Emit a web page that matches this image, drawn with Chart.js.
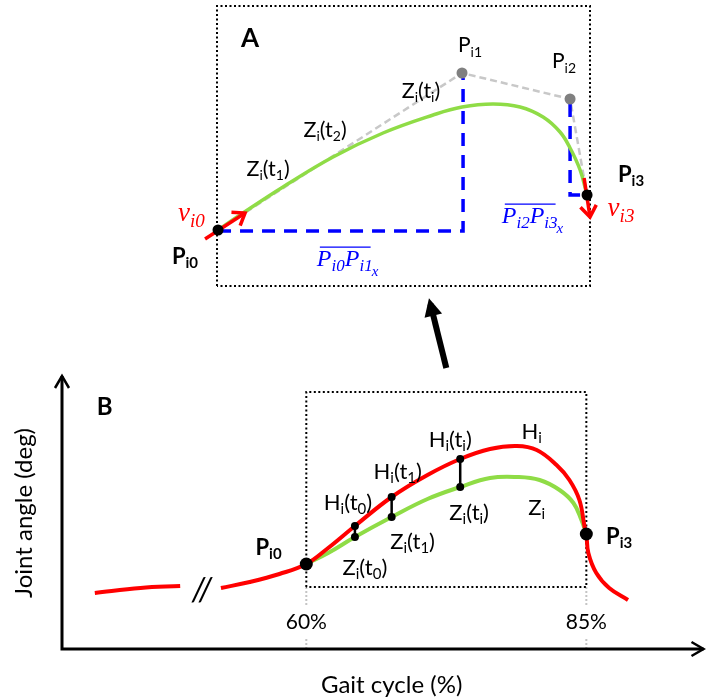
<!DOCTYPE html>
<html>
<head>
<meta charset="utf-8">
<title>Bezier segment of the swing-phase joint angle</title>
<script src="https://cdn.jsdelivr.net/npm/chart.js@4.4.1/dist/chart.umd.min.js"></script>
<style>
  html, body { margin: 0; background: #fff; }
  #wrap { position: relative; width: 710px; height: 700px; }
  #wrap canvas { position: absolute; left: 0; top: 0; }
</style>
</head>
<body>
<div id="wrap">
  <canvas id="panelB" width="710" height="700"></canvas>
  <canvas id="panelA" width="710" height="700"></canvas>
</div>
<script>
// ---- panel A: one cubic segment Z_i (x = gait cycle %, y = angle, schematic units)
const ctrlX = [60, 76.53, 83.85, 85];          // P_i0 .. P_i3
const ctrlY = [5.6, 21.3, 18.7, 9.1];
const segX = [60, 61.69, 64.4, 67.79, 71.18, 74.57, 76.53, 78.63, 80.46, 82.02, 83.17, 83.85, 84.53, 85];
const segY = [5.6, 7.3, 9.9, 12.9, 15.3, 17.1, 17.9, 18.2, 17.9, 16.9, 15.4, 13.8, 11.6, 9.1];
const span1X = [60, 76.6, 76.6];
const span1Y = [5.5, 5.5, 20.8];
const span2X = [83.85, 83.85, 84.9];
const span2Y = [18.2, 9.1, 9.1];
const v0X = [59.12, 61.83];
const v0Y = [4.7, 7.3];
const v3X = [84.8, 85.2];
const v3Y = [10.8, 6.9];
const frameAX = [59.93, 85.2];
const frameAY = [0, 28];

// ---- panel B: hip curve H_i and fitted curve Z_i
const preX = [41.12, 45.2, 48.74];
const preY = [5.6, 6.1, 6.3];
const hipX = [52.38, 54.95, 57.6, 60, 61.95, 64.34, 67.62, 70.82, 73.74, 76.4, 78.79, 80.57, 82.34, 83.49, 84.38, 84.85, 85, 85.18, 85.89, 87.04, 88.72];
const hipY = [6.1, 6.7, 7.5, 8.5, 10.1, 12.3, 15.2, 17.4, 19.0, 20.0, 20.3, 19.9, 18.4, 16.9, 14.9, 12.2, 11.5, 9.6, 7.6, 6.1, 4.9];
const fitX = [60, 61.95, 64.34, 67.62, 70.82, 73.74, 76.4, 78.79, 80.83, 82.61, 83.85, 84.56, 85];
const fitY = [8.5, 9.6, 11.2, 13.2, 15.0, 16.2, 17.1, 17.2, 16.9, 15.9, 14.6, 12.9, 11.5];
const sampleT = [64.34, 67.62, 73.74];
const sampleH = [12.3, 15.2, 19.0];
const sampleZ = [11.2, 13.2, 16.2];
const endX = [60, 85];
const endY = [8.5, 11.5];
const windowX = [60, 85];
const windowY = [6.2, 25.7];
const tickX = [60, 85];
const tickLabels = ['60%', '85%'];
const zoomArrowX = [72.5, 71.08];
const zoomArrowY = [28.1, 34.5];

const FONT = 'Lato, "Open Sans", sans-serif';
const MATH = '"Liberation Serif", "DejaVu Serif", serif';
const RED = '#ff0000';
const GREEN = '#8fdc46';
const BLUE = '#0000ff';

const pts = (xs, ys) => xs.map((x, i) => ({ x, y: ys[i] }));

// "Z_{i}(t_{1})" -> runs of plain and subscript text
function runsOf(text) {
  const runs = [];
  const re = /_\{([^}]*)\}/g;
  let last = 0, m;
  while ((m = re.exec(text))) {
    if (m.index > last) runs.push({ t: text.slice(last, m.index), sub: false });
    runs.push({ t: m[1], sub: true });
    last = re.lastIndex;
  }
  if (last < text.length) runs.push({ t: text.slice(last), sub: false });
  return runs;
}

function fontOf(n, size) {
  return (n.italic ? 'italic ' : '') + (n.bold ? 'bold ' : '') + size + 'px ' + (n.family || FONT);
}

function drawNote(ctx, n, px, py) {
  const size = n.size || 22;
  const subSize = Math.round(size * (n.subScale || 0.66));
  const tailSize = Math.round(size * 0.62);
  const runs = runsOf(n.text);
  const widths = runs.map(r => {
    ctx.font = fontOf(n, r.sub ? subSize : size);
    return ctx.measureText(r.t).width;
  });
  const textW = widths.reduce((a, b) => a + b, 0);
  let tailW = 0;
  if (n.tail) {
    ctx.font = fontOf(n, tailSize);
    tailW = ctx.measureText(n.tail).width;
  }
  ctx.save();
  ctx.translate(px, py);
  if (n.rotate) ctx.rotate(n.rotate);
  ctx.fillStyle = n.color || '#000';
  ctx.textAlign = 'left';
  ctx.textBaseline = 'alphabetic';
  const base = size * 0.35;
  const x0 = -(textW + tailW) / 2;
  let x = x0;
  runs.forEach((r, i) => {
    ctx.font = fontOf(n, r.sub ? subSize : size);
    ctx.fillText(r.t, x, base + (r.sub ? size * 0.2 : 0));
    x += widths[i];
  });
  if (n.over) {
    ctx.strokeStyle = n.color;
    ctx.lineWidth = 1.3;
    ctx.beginPath();
    ctx.moveTo(x0 + 3, base - size * 0.8);
    ctx.lineTo(x - 2, base - size * 0.8);
    ctx.stroke();
  }
  if (n.tail) {
    ctx.font = fontOf(n, tailSize);
    ctx.fillText(n.tail, x - 1, base + size * 0.42);
  }
  ctx.restore();
}

function notesPlugin(id, notes) {
  return {
    id,
    afterDraw(chart) {
      const { ctx, scales } = chart;
      notes.forEach(n => drawNote(ctx, n, scales.x.getPixelForValue(n.at[0]), scales.y.getPixelForValue(n.at[1])));
    }
  };
}

// arrow heads on the last segment of any dataset that has `head`
const arrowHeads = {
  id: 'arrowHeads',
  afterDatasetsDraw(chart) {
    const ctx = chart.ctx;
    chart.data.datasets.forEach((ds, i) => {
      if (!ds.head) return;
      const el = chart.getDatasetMeta(i).data;
      const a = el[el.length - 2], b = el[el.length - 1];
      const ang = Math.atan2(b.y - a.y, b.x - a.x);
      const { len, half, filled } = ds.head;
      ctx.save();
      ctx.translate(b.x, b.y);
      ctx.rotate(ang);
      ctx.beginPath();
      if (filled) {
        const tip = ds.borderWidth * len / (2 * half);
        ctx.moveTo(tip - len, -half);
        ctx.lineTo(tip, 0);
        ctx.lineTo(tip - len, half);
        ctx.closePath();
        ctx.fillStyle = ds.borderColor;
        ctx.fill();
      } else {
        ctx.moveTo(-len, -half);
        ctx.lineTo(0, 0);
        ctx.lineTo(-len, half);
        ctx.strokeStyle = ds.borderColor;
        ctx.lineWidth = ds.borderWidth;
        ctx.lineJoin = 'miter';
        ctx.stroke();
      }
      ctx.restore();
    });
  }
};

// axes with open arrow tips, plus the grey guides under the two tick labels
const axesB = {
  id: 'axesB',
  beforeDatasetsDraw(chart) {
    const { ctx, chartArea: { left, right, top, bottom }, scales: { x, y } } = chart;
    ctx.save();
    ctx.strokeStyle = '#c4c4c4';
    ctx.lineWidth = 2;
    ctx.setLineDash([2, 2]);
    const boxBottom = y.getPixelForValue(windowY[0]);
    tickX.forEach(v => {
      const px = x.getPixelForValue(v);
      ctx.beginPath();
      ctx.moveTo(px, boxBottom);
      ctx.lineTo(px, boxBottom + 18);
      ctx.moveTo(px, bottom - 10);
      ctx.lineTo(px, bottom);
      ctx.stroke();
    });
    ctx.setLineDash([]);
    ctx.strokeStyle = '#000';
    ctx.lineWidth = 3;
    ctx.beginPath();
    ctx.moveTo(left, top);
    ctx.lineTo(left, bottom);
    ctx.lineTo(right, bottom);
    ctx.stroke();
    ctx.lineWidth = 2.5;
    ctx.beginPath();
    ctx.moveTo(left - 7, top + 12);
    ctx.lineTo(left, top);
    ctx.lineTo(left + 7, top + 12);
    ctx.moveTo(right - 12, bottom - 7);
    ctx.lineTo(right, bottom);
    ctx.lineTo(right - 12, bottom + 7);
    ctx.stroke();
    ctx.restore();
  }
};

Chart.register(arrowHeads);

const baseOptions = (xr, yr, padding) => ({
  responsive: false,
  animation: false,
  events: [],
  devicePixelRatio: 1,
  layout: { padding },
  plugins: { legend: { display: false }, tooltip: { enabled: false } },
  elements: { line: { capBezierPoints: false } },
  datasets: { scatter: { clip: false, showLine: true, pointRadius: 0, tension: 0 } },
  scales: {
    x: { type: 'linear', min: xr[0], max: xr[1], display: false },
    y: { type: 'linear', min: yr[0], max: yr[1], display: false }
  }
});

// ---------------- panel A ----------------
const notesA = [
  { text: 'A', at: [62.17, 24.8], size: 26, bold: true },
  { text: 'P_{i1}', at: [77.07, 24.1], size: 21 },
  { text: 'P_{i2}', at: [83.44, 22.5], size: 21 },
  { text: 'Z_{i}(t_{i})', at: [73.75, 19.6], size: 21.5 },
  { text: 'Z_{i}(t_{2})', at: [67.25, 15.7], size: 21.5 },
  { text: 'Z_{i}(t_{1})', at: [63.39, 11.8], size: 21.5 },
  { text: 'P_{i3}', at: [87.98, 11.2], size: 22, bold: true },
  { text: 'P_{i0}', at: [57.76, 3.0], size: 22, bold: true },
  { text: 'v_{i0}', at: [58.2, 7.4], size: 27, italic: true, family: MATH, color: RED, subScale: 0.72 },
  { text: 'v_{i3}', at: [87.3, 7.9], size: 27, italic: true, family: MATH, color: RED, subScale: 0.72 },
  { text: 'P_{i0}P_{i1}', tail: 'x', over: true, at: [68.81, 2.8], size: 24, italic: true, family: MATH, color: BLUE, subScale: 0.7 },
  { text: 'P_{i2}P_{i3}', tail: 'x', over: true, at: [81.34, 7.1], size: 24, italic: true, family: MATH, color: BLUE, subScale: 0.7 }
];

new Chart(document.getElementById('panelA'), {
  type: 'scatter',
  data: {
    datasets: [
      {
        data: pts(ctrlX, ctrlY), showLine: false, order: 0,
        pointRadius: 5.5, pointBorderWidth: 0,
        pointBackgroundColor: ['#000', '#808080', '#808080', '#000']
      },
      { data: pts(v0X, v0Y), borderColor: RED, borderWidth: 3.5, order: 1, head: { len: 11, half: 8 } },
      { data: pts(v3X, v3Y), borderColor: RED, borderWidth: 3.5, order: 1, head: { len: 11, half: 8 } },
      { data: pts(segX, segY), borderColor: GREEN, borderWidth: 3.5, tension: 0.4, order: 2 },
      { data: pts(span1X, span1Y), borderColor: BLUE, borderWidth: 3.5, borderDash: [13, 9], order: 3 },
      { data: pts(span2X, span2Y), borderColor: BLUE, borderWidth: 3.5, borderDash: [13, 9], order: 3 },
      { data: pts(ctrlX, ctrlY), borderColor: '#c8c8c8', borderWidth: 2.5, borderDash: [7, 4], order: 4 },
      {
        data: pts([frameAX[0], frameAX[0], frameAX[1], frameAX[1], frameAX[0]],
                  [frameAY[0], frameAY[1], frameAY[1], frameAY[0], frameAY[0]]),
        borderColor: '#000', borderWidth: 2, borderDash: [2, 2.5], order: 5
      }
    ]
  },
  options: baseOptions(frameAX, frameAY, { left: 217, top: 6, right: 120, bottom: 414 }),
  plugins: [notesPlugin('notesA', notesA)]
});

// ---------------- panel B ----------------
const notesB = [
  { text: 'B', at: [42.0, 24.2], size: 24, bold: true },
  { text: 'P_{i0}', at: [56.63, 10.2], size: 22, bold: true },
  { text: 'P_{i3}', at: [87.93, 11.3], size: 22, bold: true },
  { text: 'H_{i}(t_{0})', at: [63.72, 14.7] },
  { text: 'Z_{i}(t_{0})', at: [65.23, 8.2] },
  { text: 'H_{i}(t_{1})', at: [68.16, 17.8] },
  { text: 'Z_{i}(t_{1})', at: [69.49, 10.8] },
  { text: 'H_{i}(t_{i})', at: [72.85, 21.0] },
  { text: 'Z_{i}(t_{i})', at: [74.54, 13.7] },
  { text: 'H_{i}', at: [80.12, 21.8] },
  { text: 'Z_{i}', at: [80.57, 14.2] },
  { text: '//', at: [50.69, 5.9], size: 32, italic: true },
  ...tickX.map((v, i) => ({ text: tickLabels[i], at: [v, 2.7], size: 21 })),
  { text: 'Gait cycle (%)', at: [67.62, -3.6], size: 24 },
  { text: 'Joint angle (deg)', at: [34.73, 13.6], size: 24, rotate: -Math.PI / 2 }
];

const pairSets = sampleT.map((t, i) => ({
  data: pts([t, t], [sampleH[i], sampleZ[i]]),
  borderColor: '#000', borderWidth: 2.5, order: 1,
  pointRadius: 4, pointBackgroundColor: '#000', pointBorderWidth: 0
}));

new Chart(document.getElementById('panelB'), {
  type: 'scatter',
  data: {
    datasets: [
      {
        data: pts(endX, endY), showLine: false, order: 0,
        pointRadius: 6.5, pointBackgroundColor: '#000', pointBorderWidth: 0
      },
      ...pairSets,
      { data: pts(hipX, hipY), borderColor: RED, borderWidth: 4, tension: 0.4, order: 2 },
      { data: pts(preX, preY), borderColor: RED, borderWidth: 4, tension: 0.4, order: 2 },
      { data: pts(fitX, fitY), borderColor: GREEN, borderWidth: 4, tension: 0.4, order: 3 },
      {
        data: pts([windowX[0], windowX[0], windowX[1], windowX[1], windowX[0]],
                  [windowY[0], windowY[1], windowY[1], windowY[0], windowY[0]]),
        borderColor: '#000', borderWidth: 2, borderDash: [2, 2.5], order: 4
      },
      {
        data: pts(zoomArrowX, zoomArrowY), borderColor: '#000', borderWidth: 6, order: 0,
        head: { len: 18, half: 9, filled: true }
      }
    ]
  },
  options: baseOptions([38.19, 95.46], [0, 27.3], { left: 62, top: 376, right: 2, bottom: 51 }),
  plugins: [axesB, notesPlugin('notesB', notesB)]
});
</script>
</body>
</html>
